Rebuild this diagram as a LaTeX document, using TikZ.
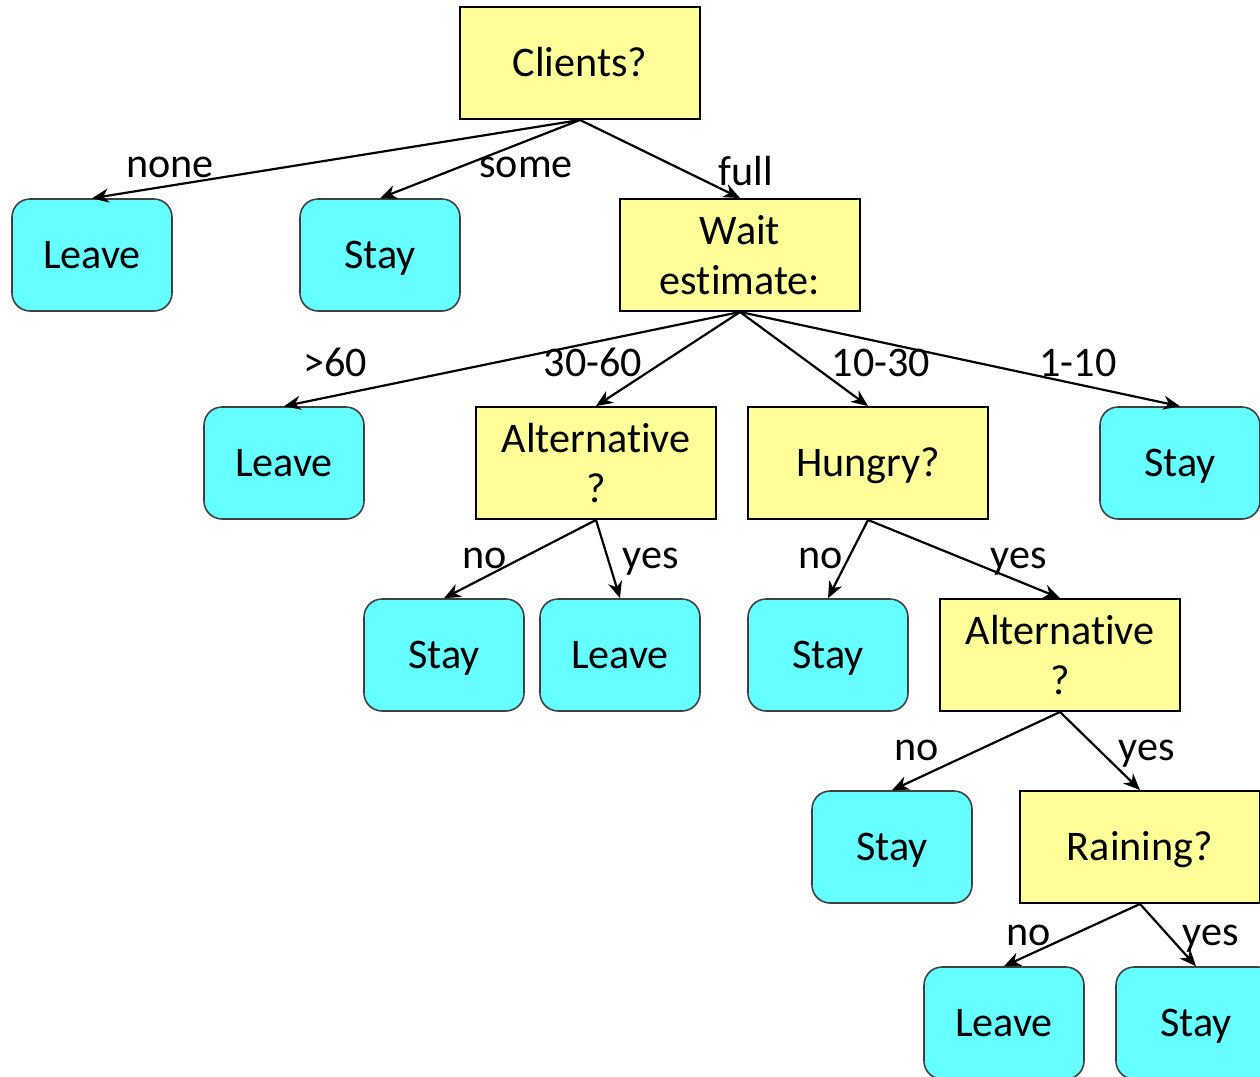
\documentclass[tikz,border=0pt]{standalone}
\usepackage{fontspec}
\setmainfont{Carlito}[Ligatures=NoCommon]
\usepackage{tikz}
\usetikzlibrary{arrows.meta}
\definecolor{AskYellow}{HTML}{FFFF99}
\definecolor{LeafCyan}{HTML}{66FFFF}
\tikzset{font=\fontsize{24}{28.3}\selectfont}
\tikzset{AskBox/.style={draw=black, line width=1.1pt, fill=AskYellow,
    minimum width=4.8cm, minimum height=2.24cm, inner sep=0pt, align=center}}
\tikzset{LeafBox/.style={draw=black!75, line width=0.9pt, fill=LeafCyan,
    rounded corners=0.36cm, minimum width=3.2cm, minimum height=2.24cm,
    inner sep=0pt, text height=15.4pt, text depth=0pt}}
\tikzset{OneLine/.style={text height=15.4pt, text depth=0pt}}
\tikzset{Branch/.style={-{Stealth[length=9.5pt,width=8pt,inset=3pt]}, line width=1.25pt}}
\tikzset{Tag/.style={anchor=base, inner sep=0pt}}

\begin{document}
\begin{tikzpicture}[x=0.02cm,y=-0.02cm]
  \useasboundingbox (0,0) rectangle (1260,1076);

  % questions
  \node[AskBox, OneLine] (clients) at (580,63) {Clients?};
  \node[AskBox] (wait) at (740,255) {Wait\\estimate:};
  \node[AskBox] (alt1) at (596,463) {Alternative\\?};
  \node[AskBox, OneLine] (hungry) at (868,463) {Hungry?};
  \node[AskBox] (alt2) at (1060,655) {Alternative\\?};
  \node[AskBox, OneLine] (rain) at (1140,847) {Raining?};

  % answers
  \node[LeafBox] (leave1) at (92,255) {Leave};
  \node[LeafBox] (stay1) at (380,255) {Stay};
  \node[LeafBox] (leave2) at (284,463) {Leave};
  \node[LeafBox] (stay2) at (1180,463) {Stay};
  \node[LeafBox] (stay3) at (444,655) {Stay};
  \node[LeafBox] (leave3) at (620,655) {Leave};
  \node[LeafBox] (stay4) at (828,655) {Stay};
  \node[LeafBox] (stay5) at (892,847) {Stay};
  \node[LeafBox] (leave4) at (1004,1023) {Leave};
  \node[LeafBox] (stay6) at (1196,1023) {Stay};

  % branches
  \draw[Branch] (clients.south) -- (leave1.north);
  \draw[Branch] (clients.south) -- (stay1.north);
  \draw[Branch] (clients.south) -- (wait.north);
  \draw[Branch] (wait.south) -- (leave2.north);
  \draw[Branch] (wait.south) -- (alt1.north);
  \draw[Branch] (wait.south) -- (hungry.north);
  \draw[Branch] (wait.south) -- (stay2.north);
  \draw[Branch] (alt1.south) -- (stay3.north);
  \draw[Branch] (alt1.south) -- (leave3.north);
  \draw[Branch] (hungry.south) -- (stay4.north);
  \draw[Branch] (hungry.south) -- (alt2.north);
  \draw[Branch] (alt2.south) -- (stay5.north);
  \draw[Branch] (alt2.south) -- (rain.north);
  \draw[Branch] (rain.south) -- (leave4.north);
  \draw[Branch] (rain.south) -- (stay6.north);

  % branch labels
  \node[Tag] (tnone) at (170,177) {none};
  \node[Tag] (tsome) at (526,177) {some};
  \node[Tag] (tfull) at (746,185) {full};
  \node[Tag] (tover) at (335,376) {>60};
  \node[Tag] (tlong) at (593,376) {30-60};
  \node[Tag] (tmid) at (881,376) {10-30};
  \node[Tag] (tshort) at (1078,376) {1-10};
  \node[Tag] (tno1) at (485,568) {no};
  \node[Tag] (tyes1) at (651,568) {yes};
  \node[Tag] (tno2) at (821,568) {no};
  \node[Tag] (tyes2) at (1019,568) {yes};
  \node[Tag] (tno3) at (917,760) {no};
  \node[Tag] (tyes3) at (1147,760) {yes};
  \node[Tag] (tno4) at (1029,945) {no};
  \node[Tag] (tyes4) at (1211,945) {yes};
\end{tikzpicture}
\end{document}
